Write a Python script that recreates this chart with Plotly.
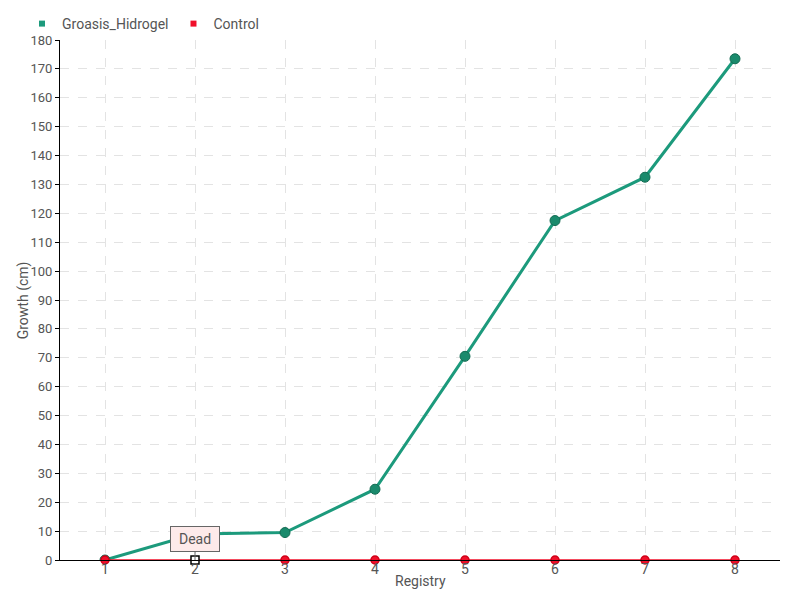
import plotly.graph_objects as go

registry = [1, 2, 3, 4, 5, 6, 7, 8]
groasis = [0, 9, 9.5, 24.5, 70.5, 117.5, 132.5, 173.5]
control = [0, 0, 0, 0, 0, 0, 0, 0]
y_ticks = list(range(0, 181, 10))

GREEN = "#1c9a7c"
RED = "#f0102a"
FONT = "Roboto, sans-serif"
TXT = "#555555"

fig = go.Figure()
fig.add_trace(go.Scatter(
    x=registry, y=groasis, mode="lines+markers", name="Groasis_Hidrogel",
    line=dict(color=GREEN, width=3),
    marker=dict(size=10, color="#1a8a6c", line=dict(color="#136b52", width=1)),
    showlegend=False,
))
ctrl_symbols = ["circle"] * len(registry)
ctrl_symbols[1] = "square"
ctrl_colors = [RED] * len(registry)
ctrl_colors[1] = "white"
ctrl_line = ["#d00018"] * len(registry)
ctrl_line[1] = "black"
fig.add_trace(go.Scatter(
    x=registry, y=control, mode="lines+markers", name="Control",
    line=dict(color=RED, width=1.5),
    marker=dict(size=8, color=ctrl_colors, symbol=ctrl_symbols,
                line=dict(color=ctrl_line, width=1.5)),
    showlegend=False, cliponaxis=False,
))
# legend-only entries with square icons
fig.add_trace(go.Scatter(x=[None], y=[None], mode="markers", name="Groasis_Hidrogel",
                         marker=dict(symbol="square", size=6, color=GREEN)))
fig.add_trace(go.Scatter(x=[None], y=[None], mode="markers", name="Control",
                         marker=dict(symbol="square", size=6, color=RED)))

fig.add_annotation(
    x=registry[1], y=control[1], text="Dead", showarrow=True,
    arrowhead=0, arrowwidth=1, arrowcolor="#666666", ax=0, ay=-21,
    width=40, height=16,
    bgcolor="#fdeaea", bordercolor="#666666", borderwidth=1, borderpad=4,
    font=dict(family=FONT, size=14, color=TXT),
)
# axis titles
fig.add_annotation(text="Registry", xref="paper", yref="paper", x=0.5, y=-0.0404,
                   xanchor="center", yanchor="middle", showarrow=False,
                   font=dict(family=FONT, size=14, color=TXT))
fig.add_annotation(text="Growth (cm)", xref="paper", yref="paper", x=-0.051, y=0.5,
                   xanchor="center", yanchor="middle", showarrow=False, textangle=-90,
                   font=dict(family=FONT, size=14, color=TXT))

fig.update_layout(
    width=800, height=600,
    margin=dict(l=52, r=28, t=32, b=48, autoexpand=False),
    paper_bgcolor="white", plot_bgcolor="white",
    font=dict(family=FONT, size=13, color=TXT),
    legend=dict(orientation="h", x=0.0175, xref="container", y=1.0, yref="container",
                xanchor="left", yanchor="top", font=dict(size=14, color=TXT),
                itemwidth=30, bgcolor="rgba(0,0,0,0)"),
    showlegend=True,
)
fig.update_xaxes(
    type="linear", range=[0.5, 8.5], tickvals=registry, ticktext=[str(r) for r in registry],
    showgrid=True, gridcolor="#e3e3e3", griddash="dash", gridwidth=1,
    showline=True, linecolor="black", linewidth=1, zeroline=False,
    ticks="", ticklabelstandoff=-4, automargin=False,
    tickfont=dict(size=14, color=TXT),
)
fig.update_yaxes(
    range=[0, 180], tickvals=y_ticks,
    showgrid=True, gridcolor="#e3e3e3", griddash="dash", gridwidth=1,
    showline=True, linecolor="black", linewidth=1, zeroline=False,
    ticks="outside", ticklen=4, tickcolor="black", automargin=False,
    tickfont=dict(size=13, color=TXT),
)

fig.write_html("out.html")
